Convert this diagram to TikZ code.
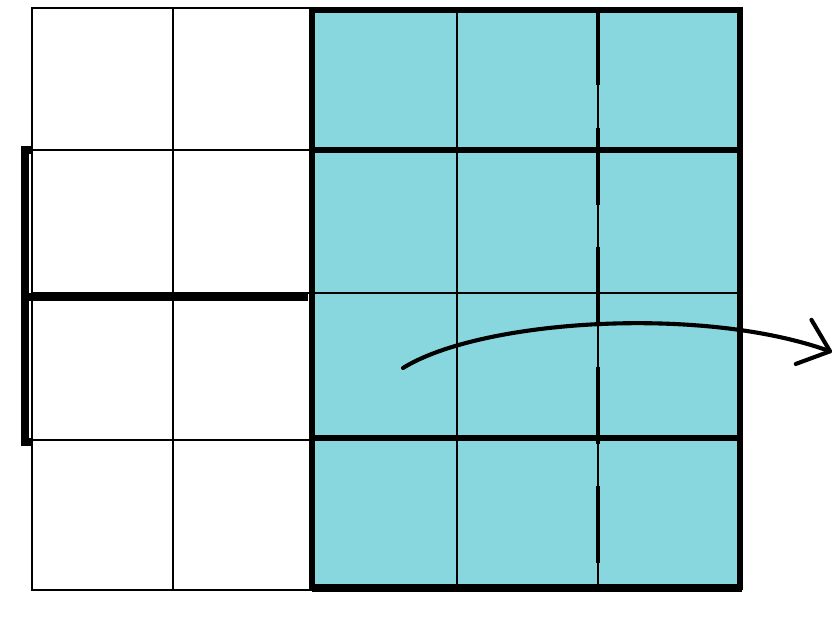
\documentclass[tikz,border=0pt]{standalone}
\usetikzlibrary{arrows.meta}
\definecolor{sheet}{RGB}{137,215,222}
\tikzset{
  thinline/.style={line width=1pt},
  edgeline/.style={line width=2pt},
  foldline/.style={line width=4.5pt},
}
\begin{document}
\begin{tikzpicture}[x=0.03cm,y=-0.03cm]
\useasboundingbox (0,0) rectangle (834,617);
% white half
\draw[edgeline] (32,8) rectangle (312,590);
\foreach \y in {150,293,440}
  \draw[thinline] (32,\y) -- (312,\y);
\draw[thinline] (173,8) -- (173,590);
% teal half
\fill[sheet] (312,10) rectangle (740,587);
\draw[thinline] (457,10) -- (457,587);
\draw[thinline] (598,10) -- (598,587);
\draw[thinline] (312,293) -- (740,293);
\draw[foldline] (312,150) -- (740,150);
\draw[foldline] (312,438) -- (740,438);
\draw[line width=4pt, dash pattern=on 66pt off 36pt] (598,8) -- (598,586);
\draw[foldline, line join=miter] (312,10) rectangle (740,587);
\draw[line width=6pt] (312,588) -- (742,588);
% bracket on the left
\draw[line width=7pt, line join=miter] (32,150) -- (25,150) -- (25,442) -- (32,442);
\draw[line width=6pt] (25,297) -- (308,297);
% turn arrow
\coordinate (turnA) at (403,368);
\coordinate (turnB) at (832,352);
\draw[line width=3.5pt, line cap=round, -{Straight Barb[length=24pt,width=40pt,round]}]
  (turnA) .. controls (480,320) and (700,305) .. (turnB);
\end{tikzpicture}
\end{document}
